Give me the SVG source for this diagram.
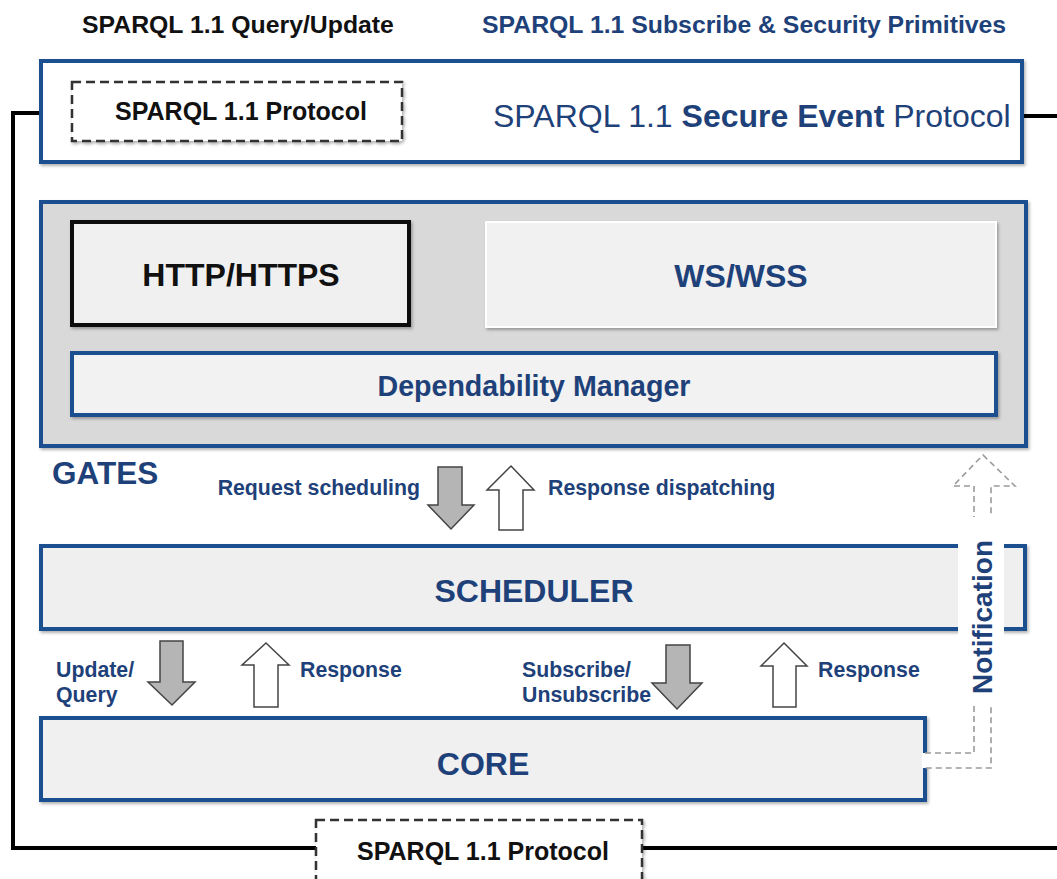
<svg xmlns="http://www.w3.org/2000/svg" width="1057" height="879" viewBox="0 0 1057 879">
<defs>
<filter id="sh" x="-5%" y="-10%" width="110%" height="130%">
<feDropShadow dx="1.5" dy="2" stdDeviation="1.5" flood-color="#000" flood-opacity="0.3"/>
</filter>
<style>
text{font-family:"Liberation Sans",Arial,Helvetica,sans-serif;font-weight:bold;}
.navy{fill:#1e4179;}
.blk{fill:#111;}
.box{stroke:#1f4f8f;stroke-width:4;}
.dash{fill:#fff;stroke:#333;stroke-width:2.5;stroke-dasharray:9 5;}
.conn{fill:none;stroke:#000;stroke-width:4;}
.down{fill:#b5b5b5;stroke:#444;stroke-width:1.5;}
.up{fill:#fff;stroke:#444;stroke-width:1.5;}
.lbl{font-size:21.3px;}
.notif{fill:none;stroke:#9a9a9a;stroke-width:1.6;stroke-dasharray:6 4;}
</style>
</defs>
<rect width="1057" height="879" fill="#fff"/>

<g id="titles">
<text class="blk" x="82" y="33" font-size="24.8">SPARQL 1.1 Query/Update</text>
<text class="navy" x="482" y="33" font-size="24.8">SPARQL 1.1 Subscribe &amp; Security Primitives</text>
</g>

<g id="connectors">
<path class="conn" d="M41,113 H13 V848 H316"/>
<path class="conn" d="M1022,116 H1057"/>
<path class="conn" d="M642,848 H1057"/>
</g>

<g id="secure-event-protocol">
<rect class="box" x="41" y="61" width="981" height="101" fill="#fff" filter="url(#sh)"/>
<text class="navy" x="493" y="127" font-size="32" font-weight="normal"><tspan font-weight="normal">SPARQL 1.1 </tspan><tspan font-weight="bold">Secure Event</tspan><tspan font-weight="normal"> Protocol</tspan></text>
</g>

<g id="sparql-protocol-top">
<rect class="dash" x="72" y="82" width="330" height="59" filter="url(#sh)"/>
<text class="blk" x="241" y="120" font-size="25" text-anchor="middle">SPARQL 1.1 Protocol</text>
</g>

<g id="gates">
<rect class="box" x="41" y="202" width="985" height="244" fill="#d9d9d9" filter="url(#sh)"/>
<text class="navy" x="52" y="484" font-size="31.5">GATES</text>
</g>

<g id="http">
<rect x="72" y="222" width="337" height="103" fill="#f0f0f0" stroke="#111" stroke-width="4" filter="url(#sh)"/>
<text class="blk" x="241" y="286" font-size="32" text-anchor="middle">HTTP/HTTPS</text>
</g>

<g id="ws">
<rect x="486" y="222" width="510" height="105" fill="#f1f1f1" stroke="#fff" stroke-width="2" filter="url(#sh)"/>
<text class="navy" x="741" y="287" font-size="32" text-anchor="middle">WS/WSS</text>
</g>

<g id="dependability">
<rect class="box" x="72" y="353" width="924" height="62" fill="#f2f2f2" filter="url(#sh)"/>
<text class="navy" x="534" y="396" font-size="28.6" text-anchor="middle">Dependability Manager</text>
</g>

<g id="gates-scheduler-arrows">
<polygon class="down" points="438,467 462,467 462,505 474,505 451,529 428,505 438,505"/>
<polygon class="up" points="511,466 534,490 523,490 523,530 499,530 499,490 487,490"/>
<text class="navy lbl" x="420" y="495" text-anchor="end">Request scheduling</text>
<text class="navy lbl" x="548" y="495">Response dispatching</text>
</g>

<g id="scheduler">
<rect class="box" x="41" y="546" width="984" height="83" fill="#efefef" filter="url(#sh)"/>
<text class="navy" x="534" y="602" font-size="32" text-anchor="middle">SCHEDULER</text>
</g>

<g id="scheduler-core-arrows">
<polygon class="down" points="160,641 183,641 183,682 195,682 172,705 148,682 160,682"/>
<polygon class="up" points="266,643 289,665 278,665 278,707 254,707 254,665 242,665"/>
<text class="navy lbl" x="56" y="677">Update/</text>
<text class="navy lbl" x="56" y="702">Query</text>
<text class="navy lbl" x="300" y="677">Response</text>
<polygon class="down" points="666,645 690,645 690,683 702,683 677,709 652,683 666,683"/>
<polygon class="up" points="784,643 807,666 796,666 796,707 773,707 773,666 761,666"/>
<text class="navy lbl" x="522" y="677">Subscribe/</text>
<text class="navy lbl" x="522" y="702">Unsubscribe</text>
<text class="navy lbl" x="818" y="677">Response</text>
</g>

<g id="core">
<rect class="box" x="41" y="718" width="884" height="82" fill="#f0f0f0" filter="url(#sh)"/>
<text class="navy" x="483" y="775" font-size="32" text-anchor="middle">CORE</text>
</g>

<g id="notification">
<path d="M922,753 H974 V486 H953 L983,455 L1015,486 H991 V768 H922 Z" fill="#fff" stroke="none"/>
<path class="notif" d="M925,753 H974 V486 H953 L983,455 L1015,486 H991 V768 H925"/>
<rect x="958" y="517" width="46" height="189" fill="#fff"/>
<text class="navy" transform="translate(992,617) rotate(-90)" font-size="28" text-anchor="middle">Notification</text>
</g>

<g id="sparql-protocol-bottom">
<rect class="dash" x="316" y="820" width="326" height="70" filter="url(#sh)"/>
<text class="blk" x="483" y="860" font-size="25" text-anchor="middle">SPARQL 1.1 Protocol</text>
</g>
</svg>
